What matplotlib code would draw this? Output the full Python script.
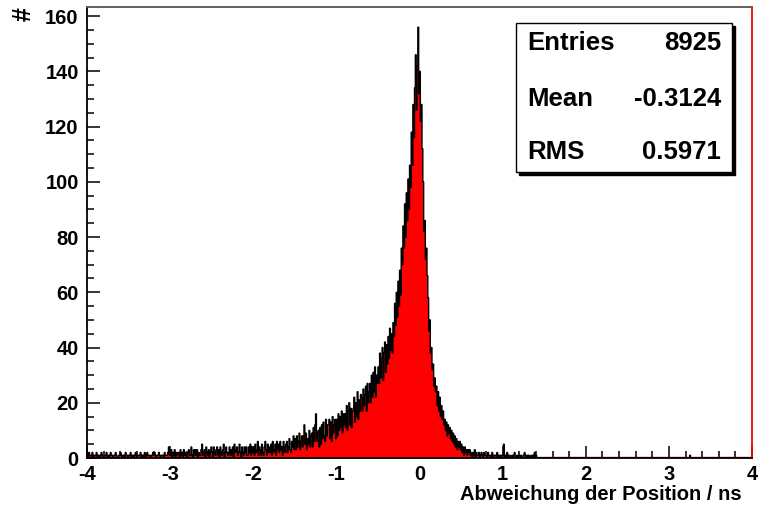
import numpy as np
import matplotlib
matplotlib.use("Agg")
import matplotlib.pyplot as plt
from matplotlib.patches import Rectangle
from matplotlib.ticker import MultipleLocator

plt.rcParams['font.family'] = ['Liberation Sans', 'DejaVu Sans']
plt.rcParams['font.weight'] = 'bold'
plt.rcParams['axes.unicode_minus'] = False

# Histogramm: 800 Bins zu 0.01 ns von -4 bis 4
x_min, x_max, bin_width = -4.0, 4.0, 0.01

# -4.0 .. -2.0
left_tail = [
    1, 0, 2, 1, 1, 0, 2, 1, 0, 1,
    1, 2, 0, 1, 1, 0, 1, 2, 1, 0,
    0, 1, 1, 2, 0, 1, 0, 1, 2, 1,
    1, 0, 1, 1, 2, 1, 0, 0, 1, 1,
    2, 1, 0, 1, 1, 0, 2, 1, 1, 0,
    1, 1, 2, 0, 1, 1, 0, 1, 2, 1,
    0, 1, 1, 1, 2, 0, 1, 1, 0, 2,
    1, 0, 2, 1, 1, 1, 0, 1, 1, 2,
    1, 2, 1, 0, 1, 1, 2, 1, 0, 1,
    1, 1, 0, 2, 1, 1, 1, 2, 4, 1,
    1, 3, 0, 2, 1, 3, 0, 2, 1, 2,
    2, 0, 3, 1, 2, 0, 3, 1, 2, 1,
    0, 2, 3, 1, 1, 4, 1, 0, 3, 1,
    3, 1, 3, 0, 2, 1, 1, 3, 5, 1,
    1, 3, 0, 4, 2, 1, 3, 0, 2, 4,
    2, 0, 4, 2, 1, 3, 4, 1, 3, 0,
    4, 2, 1, 3, 5, 0, 2, 4, 2, 1,
    2, 4, 1, 3, 1, 4, 0, 5, 2, 3,
    4, 1, 2, 5, 2, 0, 4, 2, 1, 4,
    2, 4, 1, 1, 4, 2, 5, 1, 4, 2,
]

# -2.0 .. -0.5
shoulder = [
    4, 1, 5, 2, 3, 6, 1, 4, 3, 1,
    5, 2, 1, 4, 6, 3, 1, 5, 2, 4,
    2, 5, 1, 6, 3, 2, 5, 1, 6, 3,
    5, 2, 6, 3, 4, 1, 6, 4, 2, 5,
    6, 2, 4, 7, 3, 2, 6, 4, 8, 3,
    7, 3, 8, 4, 6, 9, 3, 6, 8, 4,
    8, 12, 5, 9, 3, 7, 5, 10, 4, 8,
    9, 4, 11, 6, 12, 16, 6, 9, 10, 4,
    11, 5, 12, 7, 13, 8, 6, 14, 8, 12,
    12, 14, 7, 13, 6, 15, 9, 12, 14, 7,
    14, 8, 16, 10, 15, 11, 17, 9, 16, 12,
    16, 11, 19, 10, 17, 20, 12, 18, 11, 17,
    18, 22, 13, 20, 15, 24, 14, 21, 17, 23,
    22, 17, 25, 19, 23, 26, 17, 27, 20, 24,
    27, 20, 30, 22, 31, 24, 33, 22, 30, 27,
]

# -0.5 .. 0.5
core = [
    33, 27, 38, 29, 36, 40, 28, 38, 42, 31,
    41, 34, 44, 36, 47, 39, 45, 38, 49, 44,
    56, 48, 60, 51, 64, 55, 68, 59, 76, 70,
    84, 76, 92, 80, 96, 86, 101, 90, 106, 98,
    118, 106, 128, 116, 134, 146, 126, 142, 156, 132,
    140, 122, 128, 112, 100, 82, 86, 72, 76, 66,
    58, 46, 50, 38, 40, 32, 34, 26, 29, 24,
    26, 19, 24, 17, 22, 15, 19, 14, 17, 12,
    14, 10, 13, 8, 12, 9, 11, 7, 10, 6,
    9, 5, 8, 4, 7, 3, 6, 4, 6, 3,
]

# 0.5 .. 1.5
right_tail = [
    5, 2, 4, 1, 4, 2, 3, 1, 3, 2,
    3, 1, 2, 0, 2, 1, 3, 0, 2, 1,
    1, 2, 0, 1, 2, 1, 0, 2, 1, 1,
    1, 0, 2, 1, 1, 0, 1, 2, 0, 1,
    1, 1, 0, 2, 1, 0, 1, 1, 0, 1,
    1, 5, 0, 1, 0, 2, 1, 0, 1, 0,
    0, 1, 0, 1, 2, 0, 0, 1, 0, 1,
    1, 0, 1, 0, 0, 1, 2, 1, 0, 1,
    0, 1, 0, 0, 1, 0, 1, 0, 2, 0,
    1, 0, 0, 0, 0, 0, 0, 0, 0, 0,
]

# einzelne Einträge weiter rechts
far_positions = [3.25]
far_counts = [1]

stat_names = ['Entries', 'Mean', 'RMS']
stat_values = ['8925', '-0.3124', '0.5971']

n_bins = int(round((x_max - x_min) / bin_width))
edges = np.linspace(x_min, x_max, n_bins + 1)
counts = np.zeros(n_bins)
measured = left_tail + shoulder + core + right_tail
counts[:len(measured)] = measured
for pos, c in zip(far_positions, far_counts):
    counts[int((pos - x_min) / bin_width)] = c

fig = plt.figure(figsize=(7.6, 5.12), dpi=100)
ax = fig.add_axes([87 / 760, 1 - 458 / 512, (752 - 87) / 760, (458 - 7) / 512])

# rote Füllkante entlang der Grundlinie
ax.plot([x_min, x_max], [0.4, 0.4], color='#ff0000', linewidth=1.0, zorder=1)
ax.stairs(counts, edges, fill=True, color='#ff0000', linewidth=0, zorder=2)
ax.stairs(counts, edges, color='black', linewidth=1.0, zorder=3)

ax.set_xlim(x_min, x_max)
ax.set_ylim(0, 163.3)

ax.xaxis.set_major_locator(MultipleLocator(1))
ax.xaxis.set_minor_locator(MultipleLocator(0.2))
ax.yaxis.set_major_locator(MultipleLocator(20))
ax.yaxis.set_minor_locator(MultipleLocator(5))
ax.tick_params(which='both', direction='in', width=1.1, labelsize=14.5)
ax.tick_params(which='major', length=9)
ax.tick_params(which='minor', length=5)
ax.tick_params(axis='y', pad=6)
ax.tick_params(axis='x', pad=5)
for lab in ax.get_xticklabels() + ax.get_yticklabels():
    lab.set_fontweight('bold')

for side in ['left', 'bottom']:
    ax.spines[side].set_linewidth(1.3)
ax.spines['top'].set_color('#555555')
ax.spines['top'].set_linewidth(1.3)
ax.spines['right'].set_color('#ff0000')
ax.spines['right'].set_linewidth(1.3)

# Achsentitel
fig.text(742 / 760, 1 - 494 / 512, 'Abweichung der Position / ns', ha='right', va='center',
         fontsize=14.5, fontweight='bold')
fig.text(24 / 760, 1 - 14 / 512, '#', ha='center', va='center', rotation=90,
         fontsize=18, fontweight='bold')

# Statistik-Box mit Schatten
bx0, bx1, by0, by1 = 516, 732, 23, 172
shadow = Rectangle(((bx0 + 3) / 760, 1 - (by1 + 3) / 512), (bx1 - bx0) / 760, (by1 - by0) / 512,
                   transform=fig.transFigure, facecolor='black', edgecolor='black', zorder=5)
box = Rectangle((bx0 / 760, 1 - by1 / 512), (bx1 - bx0) / 760, (by1 - by0) / 512,
                transform=fig.transFigure, facecolor='white', edgecolor='black', linewidth=1.0, zorder=6)
fig.patches.extend([shadow, box])

row_y = [43, 99, 152]
for name, val, yy in zip(stat_names, stat_values, row_y):
    fig.text(527 / 760, 1 - yy / 512, name, ha='left', va='center', fontsize=18.5,
             fontweight='bold', zorder=7)
    fig.text(721 / 760, 1 - yy / 512, val, ha='right', va='center', fontsize=18.5,
             fontweight='bold', zorder=7)

plt.savefig('out.png', dpi=100)
plt.close(fig)
